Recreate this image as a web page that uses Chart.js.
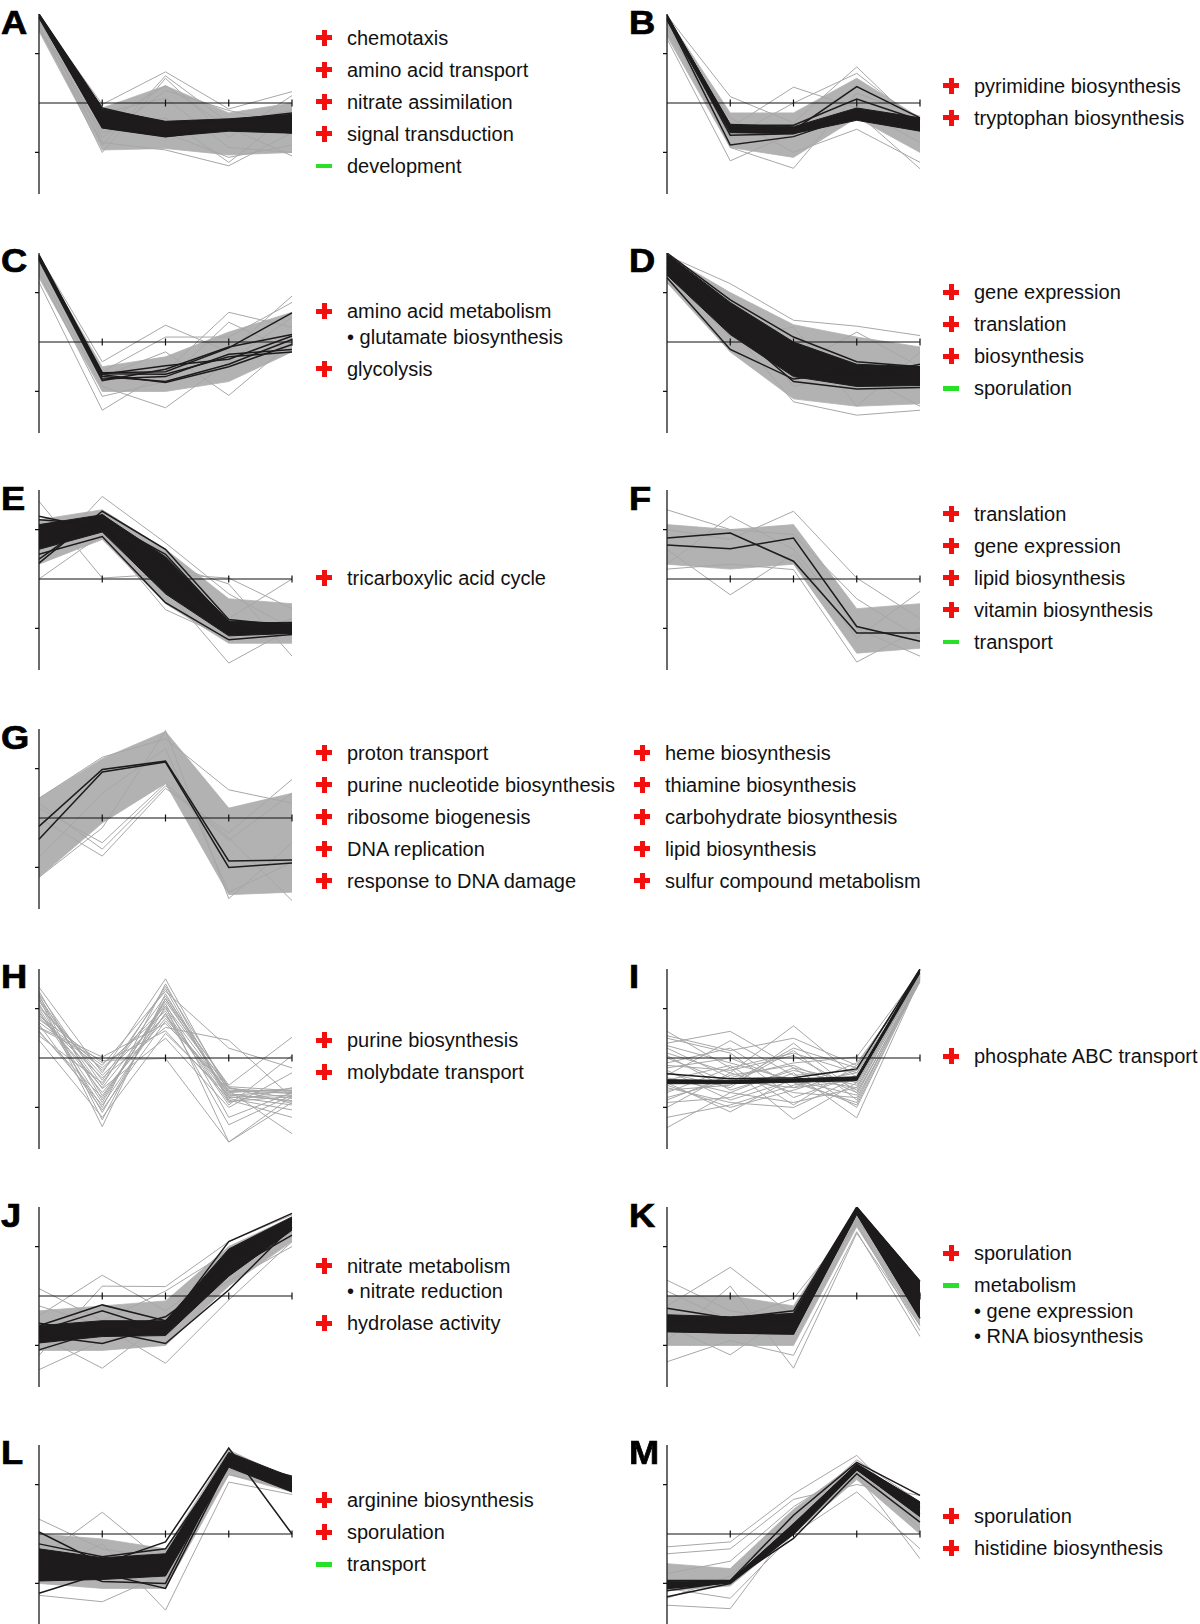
<!DOCTYPE html>
<html>
<head>
<meta charset="utf-8">
<script src="https://cdn.jsdelivr.net/npm/chart.js@4/dist/chart.umd.min.js"></script>
<style>
  html, body { margin: 0; padding: 0; background: #fff; }
  #page { position: relative; width: 1200px; height: 1624px; overflow: hidden; background: #fff; }
  .letter { position: absolute; font-family: "Liberation Sans", Arial, Helvetica, sans-serif; font-weight: bold;
            font-size: 33px; line-height: 33px; color: #000; transform: scaleX(1.1); transform-origin: left top;
            -webkit-text-stroke: 0.7px #000; }
  .term { position: absolute; font-family: "Liberation Sans", Arial, Helvetica, sans-serif; font-size: 20px;
          line-height: 20px; color: #111; white-space: nowrap; }
  .icon { position: absolute; width: 16px; height: 16px; }
  .bar { position: absolute; }
  canvas { position: absolute; }
</style>
</head>
<body>
<div id="page"></div>
<script>
// ---------------- data ----------------
const timePoints = ['T1', 'T2', 'T3', 'T4', 'T5'];
const yLimits = [-1.8, 1.8];
const yTickValues = [-1, 1];

// Panel A
const A_grayHi = [1.78, -0.10, 0.35, -0.20, 0.00];
const A_grayLo = [1.45, -0.95, -0.92, -1.05, -1.00];
const A_grayLines = [[1.75, -0.03, 0.63, -0.12, 0.23], [1.60, -1.00, 0.50, -0.70, 0.15], [1.50, -0.80, -0.95, -1.27, -0.60],
  [1.70, -0.40, 0.35, -0.50, -1.07], [1.55, -0.60, -0.30, -1.20, -0.20], [1.65, -0.20, 0.10, -0.90, -1.00],
  [1.72, -0.85, 0.55, -0.40, -0.15], [1.48, -0.30, -0.60, -1.10, -0.85], [1.68, -0.70, 0.25, -0.15, -0.45]];
const A_blackHi = [1.80, -0.12, -0.37, -0.32, -0.23];
const A_blackLo = [1.72, -0.50, -0.68, -0.57, -0.61];
const A_blackLines = [[1.80, -0.10, -0.40, -0.35, -0.20], [1.74, -0.50, -0.68, -0.52, -0.60]];
const A_terms = [['+', 'chemotaxis'], ['+', 'amino acid transport'], ['+', 'nitrate assimilation'], ['+', 'signal transduction'], ['-', 'development']];

// Panel B
const B_grayHi = [1.75, -0.20, -0.20, 0.50, -0.30];
const B_grayLo = [1.35, -0.90, -1.10, -0.30, -1.00];
const B_grayLines = [[1.77, 0.13, -0.40, 0.73, -0.50], [1.30, -1.17, -0.60, -0.20, -1.33], [1.50, -0.50, 0.32, -0.10, -0.80],
  [1.60, -0.90, -1.32, 0.20, -0.27], [1.40, -0.30, -1.00, -0.53, -1.20], [1.65, -0.70, 0.00, 0.60, -0.40]];
const B_blackHi = [1.77, -0.43, -0.48, -0.10, -0.30];
const B_blackLo = [1.67, -0.60, -0.62, -0.35, -0.57];
const B_blackLines = [[1.78, -0.50, -0.55, 0.33, -0.30], [1.75, -0.45, -0.45, 0.08, -0.35], [1.72, -0.65, -0.62, -0.15, -0.45], [1.70, -0.85, -0.68, -0.25, -0.50]];
const B_terms = [['+', 'pyrimidine biosynthesis'], ['+', 'tryptophan biosynthesis']];

// Panel C
const C_grayHi = [1.70, -0.50, -0.30, 0.20, 0.60];
const C_grayLo = [1.30, -1.00, -1.00, -0.80, -0.20];
const C_grayLines = [[1.75, -0.40, 0.34, -0.20, 0.93], [1.21, -1.38, -0.60, 0.60, 0.30], [1.50, -0.90, -1.33, -0.40, 0.50],
  [1.60, -0.70, -0.20, -1.08, 0.00], [1.40, -1.10, -0.80, 0.40, -0.20], [1.65, -0.60, 0.10, 0.10, 0.80]];
const C_blackHi = null;
const C_blackLo = null;
const C_blackLines = [[1.76, -0.62, -0.60, -0.12, 0.59], [1.70, -0.70, -0.80, -0.45, 0.05], [1.68, -0.65, -0.48, -0.35, 0.12],
  [1.72, -0.75, -0.70, -0.25, -0.15], [1.74, -0.66, -0.82, -0.50, -0.05], [1.66, -0.78, -0.55, -0.10, 0.15], [1.70, -0.64, -0.65, -0.30, -0.20]];
const C_terms = [['+', 'amino acid metabolism'], ['•', 'glutamate biosynthesis'], ['+', 'glycolysis']];

// Panel D
const D_grayHi = [1.75, 1.00, 0.35, 0.10, -0.10];
const D_grayLo = [1.20, -0.20, -1.15, -1.30, -1.25];
const D_grayLines = [[1.75, 1.18, 0.44, 0.32, 0.13], [1.20, 0.30, -1.21, -1.48, -1.38], [1.50, 0.60, -0.50, 0.20, -0.50],
  [1.40, 0.10, 0.30, -1.30, -0.20], [1.60, 0.80, -0.90, -0.60, -1.30]];
const D_blackHi = [1.78, 0.80, 0.00, -0.45, -0.50];
const D_blackLo = [1.35, 0.15, -0.70, -0.90, -0.88];
const D_blackLines = [[1.80, 0.85, 0.10, -0.40, -0.50], [1.30, -0.15, -0.75, -0.60, -0.70], [1.50, 0.30, -0.80, -0.95, -0.92], [1.60, 0.60, -0.20, -0.70, -0.45]];
const D_terms = [['+', 'gene expression'], ['+', 'translation'], ['+', 'biosynthesis'], ['-', 'sporulation']];

// Panel E
const E_grayHi = [1.20, 1.40, 0.60, -0.40, -0.50];
const E_grayLo = [0.30, 0.80, -0.50, -1.30, -1.30];
const E_grayLines = [[1.57, 0.02, 0.10, 0.02, -0.60], [0.30, 1.67, 0.73, -0.30, -1.00], [0.60, 1.00, -0.20, -1.70, -1.00],
  [0.80, 1.20, 0.30, -0.10, -1.56], [1.00, 1.30, 0.00, -0.80, 0.00], [0.00, 0.90, -0.62, -1.20, -0.80]];
const E_blackHi = [1.10, 1.30, 0.45, -0.85, -0.90];
const E_blackLo = [0.60, 0.95, -0.30, -1.15, -1.10];
const E_blackLines = [[1.27, 1.00, 0.20, -1.00, -1.00], [0.32, 1.37, 0.60, -0.82, -0.95], [0.50, 0.86, -0.48, -1.23, -1.12],
  [0.80, 1.20, 0.50, -0.90, -0.88], [1.20, 1.10, -0.20, -1.10, -1.05], [0.40, 1.30, 0.30, -1.00, -1.00]];
const E_terms = [['+', 'tricarboxylic acid cycle']];

// Panel F
const F_grayHi = [1.10, 1.00, 1.10, -0.60, -0.50];
const F_grayLo = [0.30, 0.20, 0.30, -1.50, -1.40];
const F_grayLines = [[1.40, 1.00, 0.90, -0.40, -1.20], [0.30, 1.27, 0.60, -1.00, -1.56], [0.60, -0.32, 0.50, -1.20, -0.25],
  [1.00, 0.80, 1.37, 0.02, -0.80], [0.20, 0.30, 0.19, -1.68, -1.00]];
const F_blackHi = null;
const F_blackLo = null;
const F_blackLines = [[0.83, 0.93, 0.36, -1.09, -1.09], [0.69, 0.61, 0.83, -0.96, -1.26]];
const F_terms = [['+', 'translation'], ['+', 'gene expression'], ['+', 'lipid biosynthesis'], ['+', 'vitamin biosynthesis'], ['-', 'transport']];

// Panel G
const G_grayHi = [0.40, 1.20, 1.75, 0.20, 0.50];
const G_grayLo = [-1.20, -0.10, 0.70, -1.55, -1.50];
const G_grayLines = [[0.40, 1.23, 1.60, 0.57, 0.30], [-1.20, -0.20, 1.77, -1.63, -0.50], [0.00, -0.77, 0.60, -0.30, 0.78],
  [0.20, -0.50, 0.70, -0.40, -1.67], [-0.80, 0.50, 1.40, -1.50, -0.90], [0.30, -0.63, 0.65, -0.45, 0.50]];
const G_blackHi = null;
const G_blackLo = null;
const G_blackLines = [[-0.17, 0.98, 1.15, -0.87, -0.85], [-0.43, 0.93, 1.13, -1.00, -0.91]];
const G_terms = [['+', 'proton transport'], ['+', 'purine nucleotide biosynthesis'], ['+', 'ribosome biogenesis'], ['+', 'DNA replication'], ['+', 'response to DNA damage']];
const G_terms2 = [['+', 'heme biosynthesis'], ['+', 'thiamine biosynthesis'], ['+', 'carbohydrate biosynthesis'], ['+', 'lipid biosynthesis'], ['+', 'sulfur compound metabolism']];

// Panel H
const H_grayHi = null;
const H_grayLo = null;
const H_grayLines = [[1.43, -0.30, 1.60, -0.70, -0.62], [1.30, -0.55, 1.45, -0.62, -0.70], [1.22, -1.39, 1.30, -0.80, -0.75],
  [1.10, -1.10, 1.05, -1.70, -0.90], [1.00, -0.90, 1.20, -0.55, 0.42], [0.92, -0.70, 0.80, -0.66, -1.53],
  [0.82, -0.40, 0.62, 0.36, -0.80], [0.72, -0.20, 0.95, -0.90, -0.60], [0.62, 0.02, 0.70, -0.60, -0.82],
  [0.52, -0.80, 1.10, -1.20, -0.70], [0.36, -1.20, 0.50, -0.75, -0.86], [1.15, -0.62, 0.40, -1.00, -0.30],
  [0.95, -1.00, 1.50, -0.85, -1.20], [0.60, -0.05, -0.01, -1.70, -0.78], [0.78, -0.15, 1.35, 0.20, -0.20],
  [1.25, -0.76, 0.90, -0.95, 0.05], [0.45, -0.50, 1.25, -0.58, -0.66], [1.05, -0.35, 0.85, -0.78, -0.95],
  [1.35, -0.85, 1.15, -0.65, -0.72], [0.88, -0.60, 1.00, -0.72, -0.88], [1.18, -0.45, 1.40, -0.88, -0.78],
  [0.68, -1.05, 0.75, -0.68, -0.65], [1.02, -0.25, 1.05, -0.60, -0.92], [0.55, -0.95, 0.90, -1.35, -0.75],
  [1.28, -1.25, 1.20, -0.75, -0.68], [0.85, -0.10, 0.55, -0.82, -1.05]];
const H_blackHi = null;
const H_blackLo = null;
const H_blackLines = [];
const H_terms = [['+', 'purine biosynthesis'], ['+', 'molybdate transport']];

// Panel I
const I_grayHi = null;
const I_grayLo = null;
const I_grayLines = [[0.54, -0.20, 0.10, -0.30, 1.70], [0.30, 0.54, -0.20, -0.50, 1.65], [0.10, -0.30, 0.65, -0.40, 1.75],
  [-0.10, 0.20, -0.60, -0.10, 1.60], [-0.30, -0.60, 0.30, -0.70, 1.55], [-0.50, -1.09, -0.40, -0.60, 1.70],
  [-0.70, -0.20, -1.24, -0.50, 1.65], [-0.90, -0.80, -0.30, -1.21, 1.60], [-1.41, -0.70, -0.90, -0.60, 1.58],
  [0.20, -0.40, -0.10, 0.02, 1.75], [-0.20, 0.00, -0.50, -0.90, 1.68], [-0.60, -0.90, -1.00, -0.40, 1.62],
  [0.00, -0.50, 0.20, -0.20, 1.72], [-1.00, -0.30, -0.70, -0.80, 1.54], [0.40, 0.10, -0.80, -0.35, 1.66],
  [-0.40, -0.70, -0.20, -1.00, 1.60], [-0.80, -0.45, -0.60, -0.45, 1.70], [-0.25, -0.85, -0.45, -0.75, 1.64],
  [0.45, 0.15, 0.40, -0.15, 1.72], [-0.15, -0.25, 0.05, -0.65, 1.66], [-0.35, 0.35, -0.35, -0.25, 1.60],
  [-0.65, -0.55, 0.15, -0.85, 1.63], [-1.20, -0.95, -0.55, -0.30, 1.58], [0.05, -0.65, -0.25, -0.55, 1.70],
  [-0.45, -0.15, -0.95, -0.15, 1.74], [-0.85, -0.35, -0.15, -0.70, 1.56], [0.25, -0.10, -0.45, -0.95, 1.62],
  [-0.55, -1.00, -0.65, -0.25, 1.68]];
const I_blackHi = [-0.44, -0.45, -0.42, -0.38, 1.80];
const I_blackLo = [-0.52, -0.52, -0.49, -0.46, 1.72];
const I_blackLines = [[-0.32, -0.42, -0.40, -0.22, 1.80], [-0.50, -0.48, -0.45, -0.40, 1.78]];
const I_terms = [['+', 'phosphate ABC transport']];

// Panel J
const J_grayHi = [-0.30, -0.20, -0.10, 1.00, 1.60];
const J_grayLo = [-1.10, -1.10, -1.00, 0.20, 1.10];
const J_grayLines = [[0.15, -0.50, 0.10, 0.90, 1.50], [-1.49, -0.90, -0.70, 0.50, 1.30], [-0.40, 0.42, -0.30, 0.60, 1.20],
  [-0.80, -1.46, -0.50, 0.30, 1.00], [-0.20, -0.60, -1.36, -0.08, 1.10], [-1.20, 0.20, 0.19, 1.10, 1.64]];
const J_blackHi = [-0.60, -0.50, -0.50, 0.95, 1.60];
const J_blackLo = [-0.95, -0.82, -0.80, 0.40, 1.33];
const J_blackLines = [[-0.60, -0.18, -0.50, 0.70, 1.50], [-1.09, -0.70, -0.96, 0.12, 1.40], [-0.80, -0.96, -0.60, 1.10, 1.67],
  [-0.55, -0.75, -0.42, 0.50, 1.23], [-0.70, -0.30, -0.70, 0.85, 1.55]];
const J_terms = [['+', 'nitrate metabolism'], ['•', 'nitrate reduction'], ['+', 'hydrolase activity']];

// Panel K
const K_grayHi = [0.00, 0.00, -0.20, 1.75, 0.00];
const K_grayLo = [-1.00, -1.00, -1.00, 1.40, -0.60];
const K_grayLines = [[0.32, -0.30, -0.50, 1.50, 0.19], [-1.33, -0.90, -1.20, 1.30, -0.82], [-0.20, 0.58, -0.40, 1.60, -0.30],
  [-0.60, -1.19, -0.30, 1.45, -0.70], [-0.90, 0.20, -1.46, 1.27, -0.60], [0.10, -0.50, -0.05, 1.55, 0.00]];
const K_blackHi = [-0.38, -0.42, -0.35, 1.80, 0.30];
const K_blackLo = [-0.72, -0.75, -0.77, 1.65, -0.45];
const K_blackLines = [[-0.25, -0.45, -0.30, 1.80, 0.30], [-0.72, -0.75, -0.77, 1.68, -0.45], [-0.50, -0.55, -0.50, 1.75, 0.00]];
const K_terms = [['+', 'sporulation'], ['-', 'metabolism'], ['•', 'gene expression'], ['•', 'RNA biosynthesis']];

// Panel L
const L_grayHi = [0.00, -0.10, -0.30, 1.70, 1.10];
const L_grayLo = [-1.00, -1.10, -1.10, 1.20, 0.85];
const L_grayLines = [[0.30, -0.30, -0.50, 1.30, 1.00], [-1.24, -1.37, -0.80, 1.20, 0.90], [-0.50, 0.44, -0.60, 1.40, 1.05],
  [-0.80, -0.20, -1.54, 1.05, 0.80]];
const L_blackHi = [-0.30, -0.48, -0.40, 1.65, 1.15];
const L_blackLo = [-0.95, -0.92, -0.85, 1.35, 0.85];
const L_blackLines = [[0.04, -0.60, -0.16, 1.74, 0.00], [-1.20, -0.80, -1.10, 1.40, 1.00], [-0.50, -0.96, -1.00, 1.50, 1.17], [-0.20, -0.46, -0.30, 1.55, 0.95]];
const L_terms = [['+', 'arginine biosynthesis'], ['+', 'sporulation'], ['-', 'transport']];

// Panel M
const M_grayHi = [-0.60, -0.70, 0.50, 1.45, 0.60];
const M_grayLo = [-1.15, -1.05, 0.00, 1.10, 0.00];
const M_grayLines = [[-0.26, -0.16, 0.81, 1.59, 0.30], [-1.44, -1.51, 0.20, 1.20, -0.50], [-0.40, -0.30, 0.70, 1.00, 0.78],
  [-1.10, -1.30, 0.00, 0.85, -0.30], [-0.80, -0.55, 0.55, 1.35, 0.10], [-1.30, -0.85, 0.35, 1.50, 0.65]];
const M_blackHi = [-0.96, -0.94, 0.20, 1.42, 0.65];
const M_blackLo = [-1.10, -0.99, 0.00, 1.30, 0.35];
const M_blackLines = [[-0.94, -0.94, 0.38, 1.45, 0.78], [-1.00, -0.96, 0.20, 1.40, 0.60], [-1.10, -0.98, 0.10, 1.35, 0.50],
  [-1.27, -1.00, 0.00, 1.30, 0.40], [-1.05, -0.95, -0.09, 1.22, 0.24], [-1.15, -0.97, 0.05, 1.30, 0.55]];
const M_terms = [['+', 'sporulation'], ['+', 'histidine biosynthesis']];

// ---------------- layout ----------------
const rowZeroY = [103.3, 341.7, 579.3, 818.3, 1057.7, 1296, 1533.7];
const colAxisX = [39, 667];
const colLetterX = [1, 629];
const colIconX = [316, 943];
const secondIconX = 634;
const plotW = 253, plotH = 178;

const panels = [
  ['A', 0, 0, A_grayHi, A_grayLo, A_grayLines, A_blackHi, A_blackLo, A_blackLines, A_terms],
  ['B', 0, 1, B_grayHi, B_grayLo, B_grayLines, B_blackHi, B_blackLo, B_blackLines, B_terms],
  ['C', 1, 0, C_grayHi, C_grayLo, C_grayLines, C_blackHi, C_blackLo, C_blackLines, C_terms],
  ['D', 1, 1, D_grayHi, D_grayLo, D_grayLines, D_blackHi, D_blackLo, D_blackLines, D_terms],
  ['E', 2, 0, E_grayHi, E_grayLo, E_grayLines, E_blackHi, E_blackLo, E_blackLines, E_terms],
  ['F', 2, 1, F_grayHi, F_grayLo, F_grayLines, F_blackHi, F_blackLo, F_blackLines, F_terms],
  ['G', 3, 0, G_grayHi, G_grayLo, G_grayLines, G_blackHi, G_blackLo, G_blackLines, G_terms],
  ['H', 4, 0, H_grayHi, H_grayLo, H_grayLines, H_blackHi, H_blackLo, H_blackLines, H_terms],
  ['I', 4, 1, I_grayHi, I_grayLo, I_grayLines, I_blackHi, I_blackLo, I_blackLines, I_terms],
  ['J', 5, 0, J_grayHi, J_grayLo, J_grayLines, J_blackHi, J_blackLo, J_blackLines, J_terms],
  ['K', 5, 1, K_grayHi, K_grayLo, K_grayLines, K_blackHi, K_blackLo, K_blackLines, K_terms],
  ['L', 6, 0, L_grayHi, L_grayLo, L_grayLines, L_blackHi, L_blackLo, L_blackLines, L_terms],
  ['M', 6, 1, M_grayHi, M_grayLo, M_grayLines, M_blackHi, M_blackLo, M_blackLines, M_terms]
];

const GRAY_LINE = '#a7a7a7';
const GRAY_FILL = '#b2b2b2';
const BLACK = '#1d1b1b';
const RED = '#f2100f';
const GREEN = '#27e027';

const page = document.getElementById('page');

function drawAxes(chart) {
  const ctx = chart.ctx, xs = chart.scales.x, ys = chart.scales.y;
  const x0 = xs.getPixelForValue(0), xN = xs.getPixelForValue(timePoints.length - 1);
  const yTop = ys.getPixelForValue(yLimits[1]), yBot = ys.getPixelForValue(yLimits[0]), yZero = ys.getPixelForValue(0);
  ctx.save();
  ctx.lineCap = 'butt';
  ctx.strokeStyle = '#2b2b2b';
  ctx.lineWidth = 1.4;
  ctx.beginPath(); ctx.moveTo(x0, yTop); ctx.lineTo(x0, yBot + 2); ctx.stroke();
  ctx.strokeStyle = '#111';
  ctx.lineWidth = 1.2;
  ctx.beginPath();
  ctx.moveTo(x0, yZero); ctx.lineTo(xN, yZero);
  for (let i = 1; i < timePoints.length; i++) {
    const xp = xs.getPixelForValue(i);
    ctx.moveTo(xp, yZero - 3.5); ctx.lineTo(xp, yZero + 3.5);
  }
  ctx.stroke();
  ctx.beginPath();
  for (const v of yTickValues) {
    const yp = ys.getPixelForValue(v);
    ctx.moveTo(x0 - 4, yp); ctx.lineTo(x0, yp);
  }
  ctx.stroke();
  ctx.restore();
}

const axesPlugin = {
  id: 'panelAxes',
  afterDatasetDraw(chart, args) {
    const ds = chart.data.datasets[args.index];
    if (ds.axesAfter) drawAxes(chart);
  }
};

function makeChart(p) {
  const [id, row, col, gHi, gLo, gLines, bHi, bLo, bLines] = p;
  const zero = rowZeroY[row];
  const ax = colAxisX[col];
  const padL = 8, padR = 6, padT = 6, padB = 8;
  const canvas = document.createElement('canvas');
  canvas.width = plotW + padL + padR;
  canvas.height = plotH + padT + padB;
  canvas.style.left = (ax - padL) + 'px';
  canvas.style.top = (zero - plotH / 2 - padT) + 'px';
  canvas.style.width = canvas.width + 'px';
  canvas.style.height = canvas.height + 'px';
  page.appendChild(canvas);

  const seq = [];
  if (gHi) {
    seq.push({ data: gHi, borderWidth: 0.8, borderColor: GRAY_FILL, backgroundColor: GRAY_FILL, fill: '+1' });
    seq.push({ data: gLo, borderWidth: 0.8, borderColor: GRAY_FILL, fill: false });
  }
  for (const l of gLines) seq.push({ data: l, borderWidth: 1, borderColor: GRAY_LINE, fill: false });
  seq[seq.length - 1].axesAfter = true;
  if (bHi) {
    seq.push({ data: bHi, borderWidth: 1, borderColor: BLACK, backgroundColor: BLACK, fill: '+1' });
    seq.push({ data: bLo, borderWidth: 1, borderColor: BLACK, fill: false });
  }
  for (const l of bLines) seq.push({ data: l, borderWidth: 1.5, borderColor: BLACK, fill: false });
  seq.forEach((d, i) => { d.order = seq.length - i; d.pointRadius = 0; d.tension = 0; });

  new Chart(canvas, {
    type: 'line',
    data: { labels: timePoints, datasets: seq },
    options: {
      responsive: false,
      animation: false,
      devicePixelRatio: 1,
      events: [],
      layout: { padding: { left: padL, right: padR, top: padT, bottom: padB } },
      scales: {
        x: { type: 'category', display: false, offset: false },
        y: { type: 'linear', display: false, min: yLimits[0], max: yLimits[1] }
      },
      plugins: { legend: { display: false }, tooltip: { enabled: false } },
      elements: { point: { radius: 0 }, line: { borderJoinStyle: 'miter' } }
    },
    plugins: [axesPlugin]
  });

  const letter = document.createElement('div');
  letter.className = 'letter';
  letter.textContent = id;
  letter.style.left = colLetterX[col] + 'px';
  letter.style.top = (zero - 97.3) + 'px';
  page.appendChild(letter);
}

function makeIcon(kind, left, cy) {
  const ic = document.createElement('div');
  ic.className = 'icon';
  ic.style.left = left + 'px';
  ic.style.top = (cy - 8) + 'px';
  if (kind === '+') {
    const h = document.createElement('div'); h.className = 'bar';
    Object.assign(h.style, { left: '0px', top: '5.5px', width: '16px', height: '5px', background: RED });
    const v = document.createElement('div'); v.className = 'bar';
    Object.assign(v.style, { left: '5.5px', top: '0px', width: '5px', height: '16px', background: RED });
    ic.appendChild(h); ic.appendChild(v);
  } else if (kind === '-') {
    const h = document.createElement('div'); h.className = 'bar';
    Object.assign(h.style, { left: '0px', top: '6px', width: '16px', height: '4.5px', background: GREEN });
    ic.appendChild(h);
  }
  page.appendChild(ic);
}

function makeLegend(terms, iconX, zero) {
  const steps = [];
  let span = 0;
  terms.forEach((t, i) => {
    if (i > 0) { const s = t[0] === '•' ? 25.5 : 32; steps.push(s); span += s; }
  });
  let cy = zero - 1.5 - span / 2;
  terms.forEach((t, i) => {
    if (i > 0) cy += steps[i - 1];
    if (t[0] !== '•') makeIcon(t[0], iconX, cy);
    const tx = document.createElement('div');
    tx.className = 'term';
    tx.textContent = t[0] === '•' ? '• ' + t[1] : t[1];
    tx.style.left = (iconX + 31) + 'px';
    tx.style.top = (cy - 10) + 'px';
    page.appendChild(tx);
  });
}

for (const p of panels) {
  makeChart(p);
  makeLegend(p[9], colIconX[p[2]], rowZeroY[p[1]]);
}
makeLegend(G_terms2, secondIconX, rowZeroY[3]);
</script>
</body>
</html>
